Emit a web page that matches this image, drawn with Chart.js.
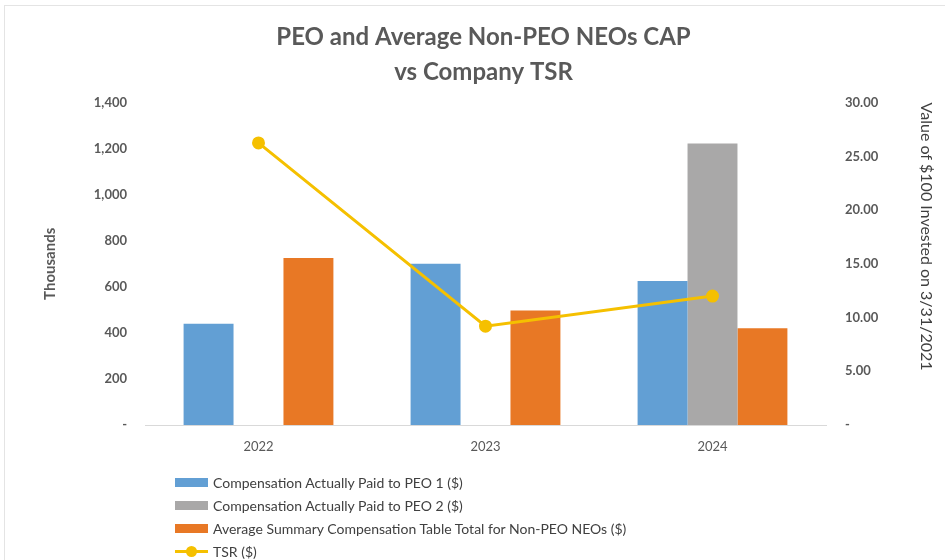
<!DOCTYPE html>
<html>
<head>
<meta charset="utf-8">
<script src="https://cdn.jsdelivr.net/npm/chart.js@4.4.1/dist/chart.umd.min.js"></script>
<style>
  html, body { margin: 0; padding: 0; background: #fff; }
  body { width: 945px; height: 560px; overflow: hidden; position: relative; font-family: Lato, "Open Sans", sans-serif; }
  #frame { position: absolute; left: 4px; top: 5px; width: 1000px; height: 600px; border-left: 1px solid #e4e4e4; border-top: 1px solid #e4e4e4; }
  #wrap { position: absolute; left: 0; top: 0; width: 945px; height: 560px; }
  #legend { position: absolute; left: 175px; top: 471px; margin: 0; padding: 0; list-style: none; }
  #legend li { height: 23px; display: flex; align-items: center; font-size: 14px; color: #404040; }
  #legend .box { width: 33px; height: 9px; margin-right: 5px; }
  #legend .ln { width: 33px; height: 11px; margin-right: 5px; position: relative; }
  #legend .ln i { position: absolute; left: 0; right: 0; top: 4px; height: 3px; }
  #legend .ln b { position: absolute; left: 11px; top: 0; width: 11px; height: 11px; border-radius: 50%; }
</style>
</head>
<body>
<div id="frame"></div>
<div id="wrap"><canvas id="chart" width="945" height="560"></canvas></div>
<ul id="legend"></ul>
<script>
// Datos
var years = ['2022', '2023', '2024'];
var peo1 = [440, 700, 625];
var peo2 = [null, null, 1222];
var promedioNeos = [725, 497, 420];
var tsr = [26.25, 9.2, 12.0];

var leftTicks = [0, 200, 400, 600, 800, 1000, 1200, 1400];
var rightTicks = [0, 5, 10, 15, 20, 25, 30];

var grisTexto = '#595959';

function crearGrafica() {
    var ctx = document.getElementById('chart').getContext('2d');
    var chart = new Chart(ctx, {
        data: {
            labels: years,
            datasets: [{
                type: 'line',
                label: 'TSR ($)',
                data: tsr,
                yAxisID: 'y1',
                borderColor: '#f5c000',
                backgroundColor: '#f5c000',
                borderWidth: 3,
                pointRadius: 5,
                pointHoverRadius: 5,
                order: 0
            }, {
                type: 'bar',
                label: 'Compensation Actually Paid to PEO 1 ($)',
                data: peo1,
                yAxisID: 'y',
                backgroundColor: '#629fd4',
                order: 1
            }, {
                type: 'bar',
                label: 'Compensation Actually Paid to PEO 2 ($)',
                data: peo2,
                yAxisID: 'y',
                backgroundColor: '#a9a8a8',
                order: 1
            }, {
                type: 'bar',
                label: 'Average Summary Compensation Table Total for Non-PEO NEOs ($)',
                data: promedioNeos,
                yAxisID: 'y',
                backgroundColor: '#e87825',
                order: 1
            }]
        },
        options: {
            responsive: false,
            animation: false,
            datasets: {
                bar: { barPercentage: 1, categoryPercentage: 0.66 }
            },
            layout: { padding: { left: 30, right: 8, top: 0, bottom: 105 } },
            plugins: {
                legend: { display: false },
                tooltip: { enabled: false },
                title: {
                    display: true,
                    text: ['PEO and Average Non-PEO NEOs CAP', 'vs Company TSR'],
                    color: grisTexto,
                    font: { family: 'Lato', size: 24, weight: 'bold', lineHeight: 1.45 },
                    padding: { top: 20, bottom: 13 }
                }
            },
            scales: {
                x: {
                    grid: { display: false, drawTicks: false },
                    border: { color: '#d9d9d9', width: 1 },
                    ticks: { color: grisTexto, font: { family: 'Lato', size: 13 }, padding: 14 },
                    afterFit: function (s) { s.height = 30; }
                },
                y: {
                    position: 'left',
                    min: 0, max: 1400,
                    afterBuildTicks: function (s) { s.ticks = leftTicks.map(function (v) { return { value: v }; }); },
                    grid: { display: false, drawTicks: false },
                    border: { display: false },
                    ticks: {
                        color: grisTexto, padding: 18,
                        font: { family: 'Lato', size: 13, weight: 'bold' },
                        callback: function (v) { return v === 0 ? '-' : v.toLocaleString('en-US'); }
                    },
                    title: {
                        display: true, text: 'Thousands', color: grisTexto,
                        font: { family: 'Lato', size: 15, weight: 'bold' },
                        padding: { top: 11, bottom: 0 }
                    },
                    afterFit: function (s) { s.width = 115; }
                },
                y1: {
                    position: 'right',
                    min: 0, max: 30,
                    afterBuildTicks: function (s) { s.ticks = rightTicks.map(function (v) { return { value: v }; }); },
                    grid: { display: false, drawTicks: false },
                    border: { display: false },
                    ticks: {
                        color: grisTexto, padding: 19,
                        font: { family: 'Lato', size: 13, weight: 'bold' },
                        callback: function (v) { return v === 0 ? '-' : v.toFixed(2); }
                    },
                    title: {
                        display: true, text: 'Value of $100 Invested on 3/31/2021', color: '#3f3f3f',
                        align: 'end',
                        font: { family: 'Lato', size: 16 },
                        padding: { top: 1, bottom: 0 }
                    },
                    afterFit: function (s) { s.width = 111; }
                }
            }
        }
    });

    construirLeyenda(chart);
}

// Leyenda en HTML, una linea por serie (barras primero, linea al final)
function construirLeyenda(chart) {
    var ul = document.getElementById('legend');
    var ds = chart.data.datasets.slice(1).concat([chart.data.datasets[0]]);
    ds.forEach(function (d) {
        var li = document.createElement('li');
        var marca;
        if (d.type === 'line') {
            marca = '<span class="ln"><i style="background:' + d.borderColor + '"></i><b style="background:' + d.borderColor + '"></b></span>';
        } else {
            marca = '<span class="box" style="background:' + d.backgroundColor + '"></span>';
        }
        li.innerHTML = marca + '<span></span>';
        li.lastChild.textContent = d.label;
        ul.appendChild(li);
    });
}

crearGrafica();
</script>
</body>
</html>
